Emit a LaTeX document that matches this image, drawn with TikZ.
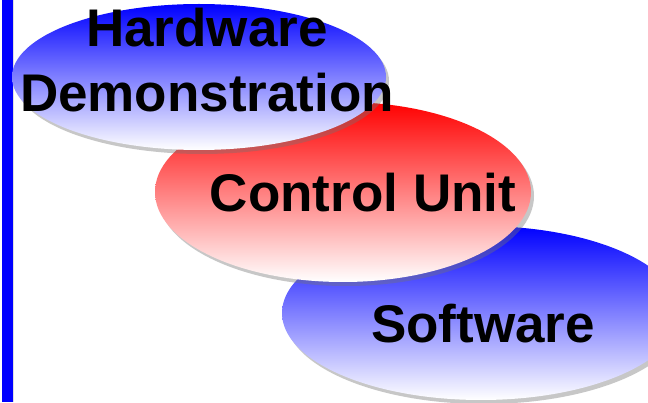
\documentclass[tikz,border=0pt]{standalone}
\usepackage{fontspec}
\setmainfont{Liberation Sans}
\usetikzlibrary{shapes.geometric,shadows}
\tikzset{
  blob/.style={ellipse, inner sep=0pt, draw=none,
    drop shadow={shadow xshift=3pt, shadow yshift=-4pt, opacity=0.4, fill=black!55}},
  blueblob/.style={blob, top color=blue, bottom color=white},
  redblob/.style={blob, top color=red, bottom color=white},
  lbl/.style={font=\fontsize{53}{65}\selectfont\bfseries, align=center, inner sep=0pt, anchor=base}
}
\begin{document}
\begin{tikzpicture}[x=1pt,y=1pt]
\useasboundingbox (0,0) rectangle (648,402);
\fill[white] (0,0) rectangle (648,402);
% left bar
\node[fill=blue, minimum width=11pt, minimum height=402pt, inner sep=0pt, anchor=south west,
  drop shadow={shadow xshift=1pt, shadow yshift=0pt, opacity=0.25}] (bar) at (2,0) {};
% ellipses (back to front)
\node[blueblob, minimum width=398pt, minimum height=174pt] (sw) at (481,89) {};
\node[redblob, minimum width=376pt, minimum height=180pt] (cu) at (343,210) {};
\node[blueblob, minimum width=374pt, minimum height=146pt] (hw) at (199,325) {};
% labels
\node[lbl] (hwt1) at (207,355) {Hardware};
\node[lbl] (hwt2) at (207,290) {Demonstration};
\node[lbl] (cut) at (363,190) {Control Unit};
\node[lbl] (swt) at (483,60) {Software};
\end{tikzpicture}
\end{document}
